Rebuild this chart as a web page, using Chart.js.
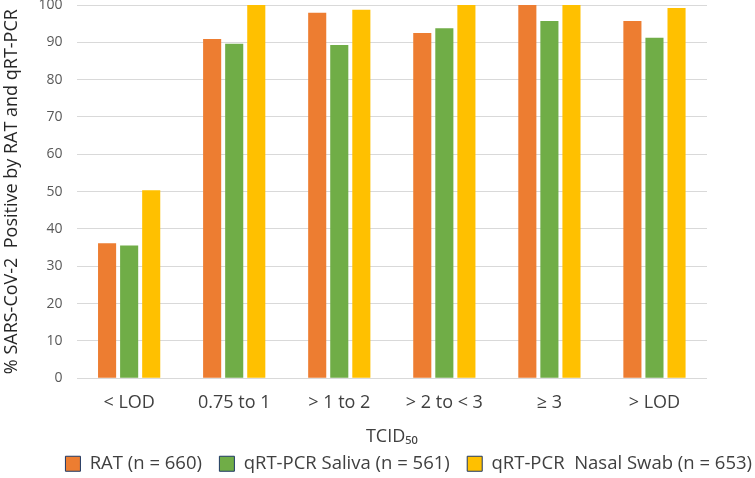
<!DOCTYPE html>
<html>
<head>
<meta charset="utf-8">
<script src="https://cdn.jsdelivr.net/npm/chart.js@4/dist/chart.umd.min.js"></script>
<style>
  html, body { margin: 0; padding: 0; background: #fff; }
  #wrap { width: 755px; height: 478px; position: relative; }
</style>
</head>
<body>
<div id="wrap"><canvas id="chart"></canvas></div>
<script>
// categories and series
const categories = ['< LOD', '0.75 to 1', '> 1 to 2', '> 2 to < 3', '\u2265 3', '> LOD'];
const ratValues = [36.2, 90.9, 97.9, 92.5, 100, 95.7];
const salivaValues = [35.6, 89.6, 89.3, 93.8, 95.7, 91.2];
const nasalValues = [50.4, 100, 98.7, 100, 100, 99.2];
const seriesLabels = ['RAT (n = 660)', 'qRT-PCR Saliva (n = 561)', 'qRT-PCR  Nasal Swab (n = 653)'];
const yTicks = [0, 10, 20, 30, 40, 50, 60, 70, 80, 90, 100];

const fontFamily = '"Open Sans", Lato, sans-serif';
const legendGap = '   '; // wider gap between legend entries, like the original

const ctx = document.getElementById('chart').getContext('2d');
new Chart(ctx, {
    type: 'bar',
    data: {
        labels: categories,
        datasets: [
            { label: seriesLabels[0], data: ratValues, backgroundColor: '#ed7d31' },
            { label: seriesLabels[1], data: salivaValues, backgroundColor: '#70ad47' },
            { label: seriesLabels[2], data: nasalValues, backgroundColor: '#ffc000' }
        ]
    },
    options: {
        responsive: true,
        maintainAspectRatio: false,
        animation: false,
        layout: { padding: { top: 0, right: 0, left: 1, bottom: -5 } },
        datasets: {
            bar: { barPercentage: 0.82, categoryPercentage: 0.63 }
        },
        plugins: {
            tooltip: { enabled: false },
            legend: {
                position: 'bottom',
                align: 'end',
                labels: {
                    color: '#404040',
                    font: { family: fontFamily, size: 18.5 },
                    boxWidth: 15,
                    boxHeight: 15,
                    padding: 3,
                    generateLabels(chart) {
                        const sets = chart.data.datasets;
                        return sets.map((ds, i) => ({
                            text: i < sets.length - 1 ? ds.label + legendGap : ds.label,
                            fillStyle: ds.backgroundColor,
                            strokeStyle: '#1f3864',
                            lineWidth: 1,
                            fontColor: '#404040',
                            datasetIndex: i
                        }));
                    }
                }
            }
        },
        scales: {
            x: {
                afterFit(axis) {
                    axis.paddingRight = 48;
                },
                grid: { display: false, drawTicks: false },
                border: { display: false },
                ticks: {
                    color: '#404040',
                    font: { family: fontFamily, size: 18 },
                    padding: 14
                },
                title: {
                    display: true,
                    text: 'TCID\u2085\u2080',
                    color: '#404040',
                    font: { family: fontFamily, size: 18 },
                    padding: { top: -2, bottom: 4 }
                }
            },
            y: {
                min: 0,
                max: 100,
                afterBuildTicks(axis) {
                    axis.ticks = yTicks.map(v => ({ value: v }));
                },
                afterFit(axis) {
                    // keep the 100 line close to the top edge like the original
                    axis.paddingTop = 5;
                    axis.paddingBottom = 0;
                },
                grid: { color: '#d9d9d9', lineWidth: 1, drawTicks: false },
                border: { display: false },
                ticks: {
                    color: '#595959',
                    font: { family: fontFamily, size: 14 },
                    padding: 14
                },
                title: {
                    display: true,
                    text: '% SARS-CoV-2  Positive by RAT and qRT-PCR',
                    color: '#262626',
                    font: { family: fontFamily, size: 18 },
                    padding: { top: 0, bottom: 2 }
                }
            }
        }
    }
});
</script>
</body>
</html>
